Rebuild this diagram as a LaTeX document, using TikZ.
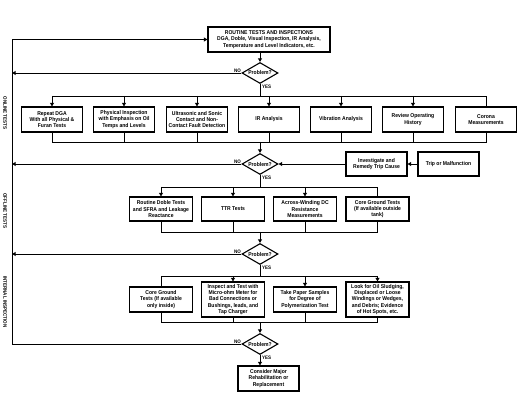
\documentclass[tikz,border=0pt]{standalone}
\usepackage{fontspec}
\setmainfont[FakeStretch=0.9]{Liberation Sans}
\usetikzlibrary{shapes.geometric,arrows.meta}
\begin{document}
\begin{tikzpicture}[x=1pt,y=-1pt,
    box/.style={draw,line width=1.1pt,align=center,inner sep=1pt,minimum width=61pt,minimum height=25pt,font=\bfseries\fontsize{5.6}{6.3}\selectfont},
    ask/.style={draw,diamond,aspect=1.8,line width=1.1pt,inner sep=0pt,minimum width=36pt,minimum height=21pt,font=\bfseries\fontsize{5.6}{6.3}\selectfont},
    lbl/.style={inner sep=0.5pt,font=\bfseries\fontsize{5}{6}\selectfont},
    side/.style={rotate=-90,inner sep=0pt,font=\bfseries\fontsize{5}{6}\selectfont},
    ln/.style={line width=0.9pt},
    arr/.style={line width=0.9pt,-{Triangle[length=3.5pt,width=3.8pt]}}]
    \useasboundingbox (0,0) rectangle (528,401);
    \node[box,minimum width=122pt] (top) at (269,39.5) {ROUTINE TESTS AND INSPECTIONS\\DGA, Doble, Visual Inspection, IR Analysis,\\Temperature and Level Indicators, etc.};
    \node[ask] (d1) at (260,73) {Problem?};
    \node[box] (r1a) at (52,119.5) {Repeat DGA\\With all Physical \&\\Furan Tests};
    \node[box] (r1b) at (124,119.5) {Physical Inspection\\with Emphasis on Oil\\Temps and Levels};
    \node[box] (r1c) at (197,119.5) {Ultrasonic and Sonic\\Contact and Non-\\Contact Fault Detection};
    \node[box] (r1d) at (269,119.5) {IR Analysis};
    \node[box] (r1e) at (341,119.5) {Vibration Analysis};
    \node[box] (r1f) at (413,119.5) {Review Operating\\History};
    \node[box] (r1g) at (486,119.5) {Corona\\Measurements};
    \node[ask] (d2) at (260,164) {Problem?};
    \node[box,minimum height=24pt] (inv) at (376.5,164) {Investigate and\\Remedy Trip Cause};
    \node[box,minimum height=24pt] (trip) at (448.5,164) {Trip or Malfunction};
    \node[box,minimum width=63pt,minimum height=24pt] (r2a) at (161,209) {Routine Doble Tests\\and SFRA and Leakage\\Reactance};
    \node[box,minimum width=63pt,minimum height=24pt] (r2b) at (233,209) {TTR Tests};
    \node[box,minimum width=63pt,minimum height=24pt] (r2c) at (305,209) {Across-Winding DC\\Resistance\\Measurements};
    \node[box,minimum width=63pt,minimum height=24pt] (r2d) at (377.5,209) {Core Ground Tests\\(If available outside\\tank)};
    \node[ask] (d3) at (260,254) {Problem?};
    \node[box,minimum width=63pt] (r3a) at (161,299.5) {Core Ground\\Tests (If available\\only inside)};
    \node[box,minimum width=63pt,minimum height=35pt] (r3b) at (233,299.5) {Inspect and Test with\\Micro-ohm Meter for\\Bad Connections or\\Bushings, leads, and\\Tap Charger};
    \node[box,minimum width=63pt] (r3c) at (305,299.5) {Take Paper Samples\\for Degree of\\Polymerization Test};
    \node[box,minimum width=63pt,minimum height=35pt] (r3d) at (377.5,299.5) {Look for Oil Sludging,\\Displaced or Loose\\Windings or Wedges,\\and Debris; Evidence\\of Hot Spots, etc.};
    \node[ask] (d4) at (260,344) {Problem?};
    \node[box] (fin) at (268.5,378.5) {Consider Major\\Rehabilitation or\\Replacement};
    \node[side] (on) at (5,113) {ONLINE TESTS};
    \node[side] (off) at (5,211) {OFFLINE TESTS};
    \node[side] (int) at (5,302) {INTERNAL INSPECTION};
    \foreach \d in {d1,d2,d3,d4} {
        \node[lbl,anchor=south east] at (\d.west) {NO};
        \node[lbl,anchor=north west,xshift=1.5pt] at (\d.south) {YES};
    }
    \coordinate (lt) at (12,39.5);
    \coordinate (lb) at (12,344);
    \coordinate (s1) at (260,96);
    \coordinate (m1) at (260,142);
    \coordinate (s2) at (260,187);
    \coordinate (m2) at (260,232);
    \coordinate (s3) at (260,276);
    \coordinate (m3) at (260,322);
    \draw[arr] (d4.west) -- (lb) -- (lt) -- (top.west);
    \foreach \d in {d1,d2,d3} \draw[arr] (\d.west) -- (\d.west -| lb);
    \draw[arr] (top.south -| d1) -- (d1.north);
    \draw[ln] (d1.south) -- (s1);
    \draw[ln] (s1 -| r1a) -- (s1 -| r1g) -- (r1g.north);
    \foreach \n in {r1a,r1b,r1c,r1d,r1e,r1f} \draw[arr] (s1 -| \n) -- (\n.north);
    \draw[ln] (r1a.south) -- (m1 -| r1a) -- (m1 -| r1g) -- (r1g.south);
    \foreach \n in {r1b,r1c,r1d,r1e,r1f} \draw[ln] (\n.south) -- (m1 -| \n);
    \draw[arr] (m1) -- (d2.north);
    \draw[arr] (trip.west) -- (inv.east);
    \draw[arr] (inv.west) -- (d2.east);
    \draw[ln] (d2.south) -- (s2);
    \draw[ln] (s2 -| r2a) -- (s2 -| r2d) -- (r2d.north);
    \foreach \n in {r2a,r2b,r2c} \draw[arr] (s2 -| \n) -- (\n.north);
    \draw[ln] (r2a.south) -- (m2 -| r2a) -- (m2 -| r2d) -- (r2d.south);
    \foreach \n in {r2b,r2c} \draw[ln] (\n.south) -- (m2 -| \n);
    \draw[arr] (m2) -- (d3.north);
    \draw[ln] (d3.south) -- (s3);
    \draw[ln] (r3a.north) -- (s3 -| r3a) -- (s3 -| r3d);
    \foreach \n in {r3b,r3c,r3d} \draw[arr] (s3 -| \n) -- (\n.north);
    \draw[ln] (r3a.south) -- (m3 -| r3a) -- (m3 -| r3d) -- (r3d.south);
    \foreach \n in {r3b,r3c} \draw[ln] (\n.south) -- (m3 -| \n);
    \draw[arr] (m3) -- (d4.north);
    \draw[arr] (d4.south) -- (d4.south |- fin.north);
\end{tikzpicture}
\end{document}
